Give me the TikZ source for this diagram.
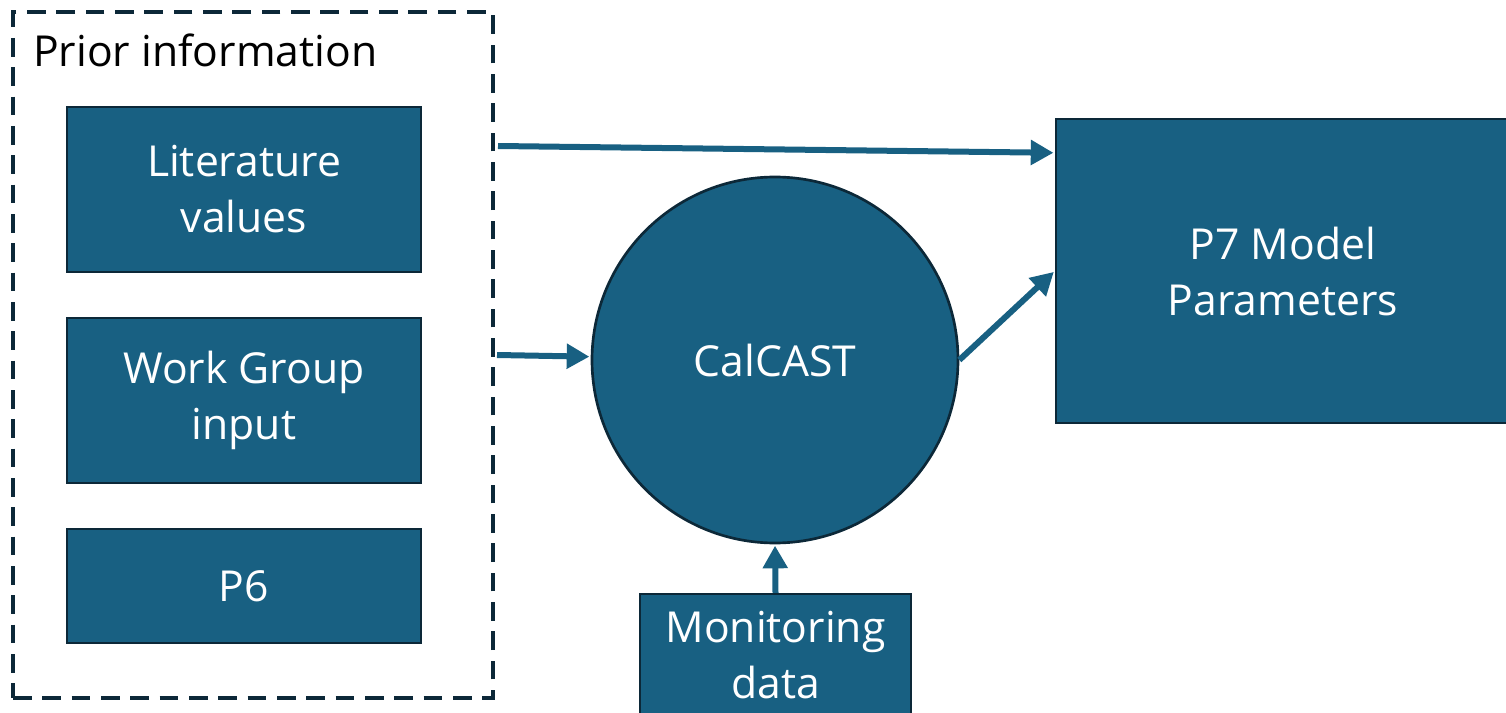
\documentclass[tikz,border=0pt]{standalone}
\usepackage{fontspec}
\setmainfont{Open Sans}
\usetikzlibrary{arrows.meta,calc}
\definecolor{boxblue}{RGB}{24,96,130}
\definecolor{boxedge}{RGB}{12,40,56}
\tikzset{
blockbox/.style={draw=boxedge, line width=1.8pt, fill=boxblue, text=white, align=center,
  font=\fontsize{32}{42}\selectfont, inner sep=0pt},
flow/.style={draw=boxblue, line width=4.5pt, -{Triangle[length=17pt,width=18pt]}, shorten >=1pt}}

\begin{document}
\begin{tikzpicture}[x=0.75pt,y=0.75pt,yscale=-1]
\useasboundingbox (0,0) rectangle (1506,713);

% Prior information group
\node (prior) [draw=boxedge, line width=3pt, dash pattern=on 14pt off 8pt,
  minimum width=360pt, minimum height=514.5pt] at (253,355) {};
\node (priortitle) [anchor=west, inner sep=0pt, font=\fontsize{32}{42}\selectfont] at (33,50) {Prior information};

% Text Node
\node (lit) [blockbox, minimum width=265.5pt, minimum height=123.75pt] at (244,189.5) {Literature\\values};
% Text Node
\node (wg) [blockbox, minimum width=265.5pt, minimum height=123.75pt] at (244,400.5) {Work Group\\input};
% Text Node
\node (psix) [blockbox, minimum width=265.5pt, minimum height=85.5pt] at (244,586) {P6};

% CalCAST
\node (calcast) [blockbox, circle, line width=2pt, minimum size=274.5pt] at (775,360) {CalCAST};

% Text Node
\node (monitor) [blockbox, minimum width=203.25pt, minimum height=91.5pt] at (775.5,655) {Monitoring\\data};
% Text Node
\node (params) [blockbox, minimum width=340.5pt, minimum height=228pt] at (1283,271) {P7 Model\\Parameters};

% Arrows
\draw[flow] ($(prior.north east)+(3,136)$) -- ($(params.north west)+(0,35)$);
\draw[flow] ($(prior.east)+(2,0)$) -- (calcast);
\draw[flow] (calcast.east) -- (params.west);
\draw[flow] (monitor.north) -- (calcast.south);

\end{tikzpicture}
\end{document}
